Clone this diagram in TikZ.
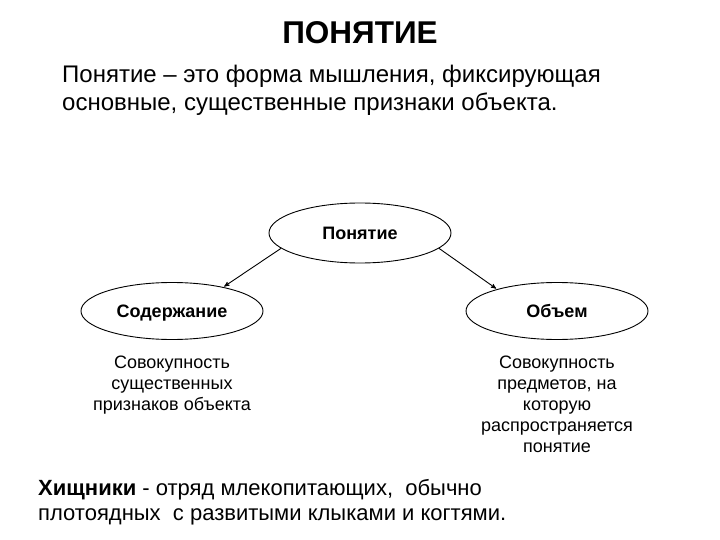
\documentclass[tikz,border=0pt]{standalone}
\usepackage{fontspec}
\setmainfont{Liberation Sans}
\usepackage{tikz}
\usetikzlibrary{arrows,shapes.geometric,positioning}

\begin{document}
\begin{tikzpicture}[x=1pt,y=-1pt,-,>=stealth',shorten >=1pt,auto,
  main node/.style={ellipse,draw,line width=0.9pt,fill=white,minimum width=182pt,
    minimum height=60pt,inner sep=0pt,text height=13pt,text depth=0pt,
    font=\bfseries\fontsize{18}{21}\selectfont},
  text node/.style={align=center,inner sep=0pt,font=\fontsize{18}{21}\selectfont},
  big text/.style={align=left,inner sep=0pt,font=\fontsize{24}{28}\selectfont}]
  \useasboundingbox (0,0) rectangle (720,540);

  \node (t) at (360,33) {\bfseries\fontsize{31.5}{36}\selectfont ПОНЯТИЕ};
  \node[big text,anchor=north west] (d) at (62,65)
    {Понятие – это форма мышления, фиксирующая\\основные, существенные признаки объекта.};

  \node[main node] (1) at (360,233) {Понятие};
  \node[main node,minimum height=57pt] (2) at (172,311) {Содержание};
  \node[main node,minimum height=57pt] (3) at (557,311) {Объем};

  \node[text node,anchor=north] (a) at (172,356)
    {Совокупность\\существенных\\признаков объекта};
  \node[text node,anchor=north] (b) at (557,356)
    {Совокупность\\предметов, на\\которую\\распространяется\\понятие};

  \node[big text,anchor=north west,font=\fontsize{22}{25}\selectfont] (e) at (38,479)
    {\textbf{Хищники} - отряд млекопитающих,~ обычно\\плотоядных~ с развитыми клыками и когтями.};

  \path[->,line width=0.9pt]
    (1.191) edge (2.25)
    (1.349) edge (3.160);
\end{tikzpicture}
\end{document}
